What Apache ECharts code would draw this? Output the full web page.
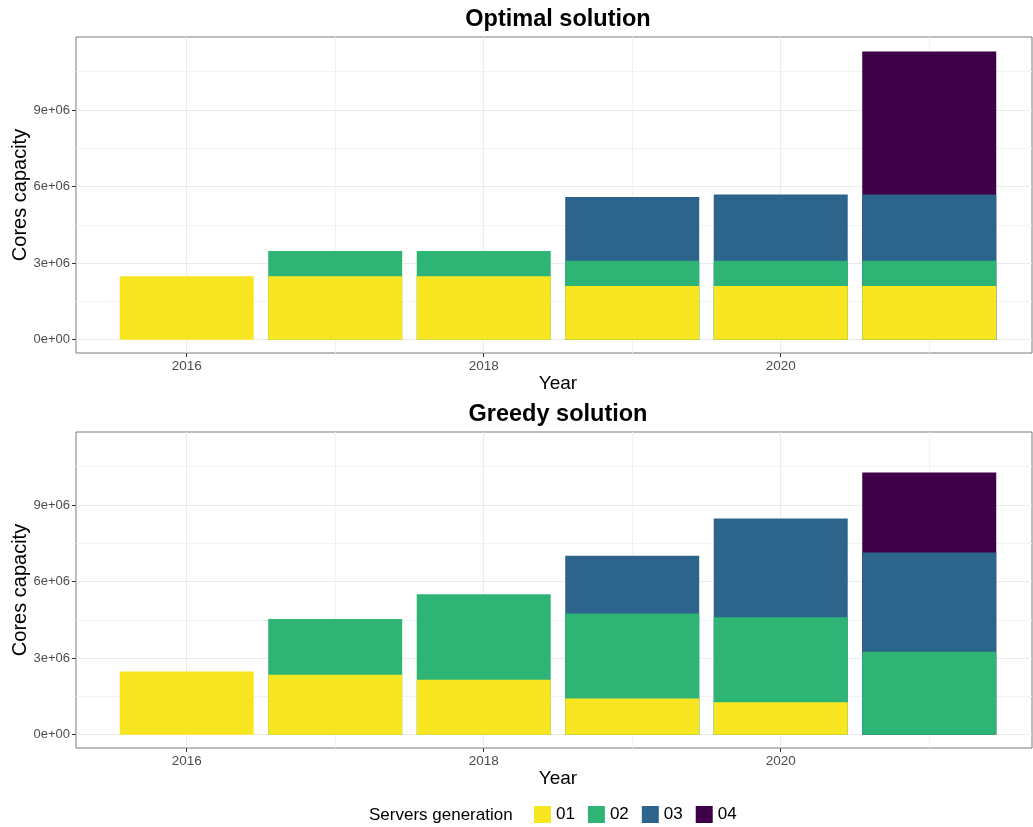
<!DOCTYPE html>
<html>
<head>
<meta charset="utf-8">
<script src="https://cdn.jsdelivr.net/npm/echarts@6/dist/echarts.min.js"></script>
<style>
html,body{margin:0;padding:0;background:#fff;}
#chart{width:1033px;height:827px;}
</style>
</head>
<body>
<div id="chart"></div>
<script>
// ---- data ----
const years = [2016, 2017, 2018, 2019, 2020, 2021];
const generations = ['01', '02', '03', '04'];
const panelTitles = ['Optimal solution', 'Greedy solution'];

const optimal01 = [2490000, 2490000, 2490000, 2100000, 2100000, 2100000];
const optimal02 = [null, 980000, 980000, 990000, 990000, 990000];
const optimal03 = [null, null, null, 2500000, 2600000, 2600000];
const optimal04 = [null, null, null, null, null, 5600000];

const greedy01 = [2480000, 2350000, 2150000, 1420000, 1270000, null];
const greedy02 = [null, 2180000, 3350000, 3330000, 3330000, 3250000];
const greedy03 = [null, null, null, 2260000, 3870000, 3890000];
const greedy04 = [null, null, null, null, null, 3130000];

const yMajorTicks = [0, 3000000, 6000000, 9000000];
const yMinorTicks = [1500000, 4500000, 7500000, 10500000];
const xMajorTicks = [2016, 2018, 2020];
const xMinorTicks = [2017, 2019, 2021];

const colors = ['#F8E621', '#2EB576', '#2C648B', '#3E0049'];

// ---- layout ----
const FONT = '"Liberation Sans", Arial, Helvetica, sans-serif';
const X_MIN = 2015.2545, X_MAX = 2021.692;
const Y_MIN = -521000, Y_MAX = 11857000;
const gridTops = [37, 432];
const gridH = 316;

function sci(v) {
  if (v === 0) return '0e+00';
  const e = Math.floor(Math.log10(Math.abs(v)));
  const m = Math.round(v / Math.pow(10, e));
  return m + 'e' + (e >= 0 ? '+' : '-') + String(Math.abs(e)).padStart(2, '0');
}

const panels = [
  [optimal01, optimal02, optimal03, optimal04],
  [greedy01, greedy02, greedy03, greedy04]
];

// cumulative tops of each stacked segment (segment drawn only where it exists)
function cumulative(layers) {
  const run = years.map(() => 0);
  return layers.map(vals => years.map((y, i) => {
    if (vals[i] == null) return null;
    run[i] += vals[i];
    return run[i];
  }));
}

const grids = [], xAxes = [], yAxes = [], series = [], graphics = [];

gridTops.forEach((top, gi) => {
  grids.push({left: 76, right: 1, top: top, height: gridH, show: true,
    borderColor: '#7A7A7A', borderWidth: 1, backgroundColor: 'transparent', containLabel: false});
  xAxes.push({type: 'value', gridIndex: gi, min: X_MIN, max: X_MAX, position: 'bottom',
    axisLine: {show: false, onZero: false}, axisLabel: {show: false},
    axisTick: {show: false, customValues: xMinorTicks},
    splitLine: {show: true, lineStyle: {color: '#F2F2F2', width: 1}}});
  xAxes.push({type: 'value', gridIndex: gi, min: X_MIN, max: X_MAX, position: 'bottom',
    axisLine: {show: false, onZero: false},
    axisTick: {show: true, length: 4, customValues: xMajorTicks, lineStyle: {color: '#333333'}},
    axisLabel: {show: true, customValues: xMajorTicks, margin: 6, color: '#4D4D4D',
      fontSize: 13.5, fontFamily: FONT, formatter: v => String(v)},
    splitLine: {show: true, lineStyle: {color: '#EBEBEB', width: 1}}});
  yAxes.push({type: 'value', gridIndex: gi, min: Y_MIN, max: Y_MAX, position: 'left',
    axisLine: {show: false, onZero: false}, axisLabel: {show: false},
    axisTick: {show: false, customValues: yMinorTicks},
    splitLine: {show: true, lineStyle: {color: '#F2F2F2', width: 1}}});
  yAxes.push({type: 'value', gridIndex: gi, min: Y_MIN, max: Y_MAX, position: 'left',
    axisLine: {show: false, onZero: false},
    axisTick: {show: true, length: 4, customValues: yMajorTicks, lineStyle: {color: '#333333'}},
    axisLabel: {show: true, customValues: yMajorTicks, margin: 6, color: '#4D4D4D',
      fontSize: 13, fontFamily: FONT, formatter: v => sci(v)},
    splitLine: {show: true, lineStyle: {color: '#EBEBEB', width: 1}}});

  const cum = cumulative(panels[gi]);
  // draw from the top layer down so lower segments cover the upper ones' lower part
  for (let si = generations.length - 1; si >= 0; si--) {
    series.push({
      type: 'bar', name: generations[si], xAxisIndex: gi * 2 + 1, yAxisIndex: gi * 2 + 1,
      barWidth: 134, barGap: '-100%', itemStyle: {color: colors[si]},
      data: years.map((y, i) => [y, cum[si][i]]),
      emphasis: {disabled: true}, animation: false, z: 2 + (generations.length - si)
    });
  }

  const cx = 558;
  graphics.push({type: 'text', x: cx, y: top - 17, style: {text: panelTitles[gi],
    fontSize: 23.5, fontWeight: 'bold', fontFamily: FONT, fill: '#000', textAlign: 'center', textVerticalAlign: 'middle'}});
  graphics.push({type: 'text', x: cx, y: top + gridH + 31, style: {text: 'Year',
    fontSize: 19, fontFamily: FONT, fill: '#000', textAlign: 'center', textVerticalAlign: 'middle'}});
  graphics.push({type: 'text', x: 20, y: top + gridH / 2, rotation: Math.PI / 2, style: {text: 'Cores capacity',
    fontSize: 20, fontFamily: FONT, fill: '#000', textAlign: 'center', textVerticalAlign: 'middle'}});
});

graphics.push({type: 'text', x: 369, y: 815, style: {text: 'Servers generation',
  fontSize: 17, fontFamily: FONT, fill: '#000', textAlign: 'left', textVerticalAlign: 'middle'}});

const chart = echarts.init(document.getElementById('chart'), null, {renderer: 'canvas'});
chart.setOption({
  animation: false,
  backgroundColor: '#ffffff',
  grid: grids,
  xAxis: xAxes,
  yAxis: yAxes,
  series: series,
  legend: {data: generations, left: 534, top: 806, orient: 'horizontal', padding: 0,
    itemWidth: 17, itemHeight: 17, itemGap: 13, icon: 'rect',
    textStyle: {fontSize: 17, fontFamily: FONT, color: '#000'}, selectedMode: false},
  graphic: graphics
});
</script>
</body>
</html>
